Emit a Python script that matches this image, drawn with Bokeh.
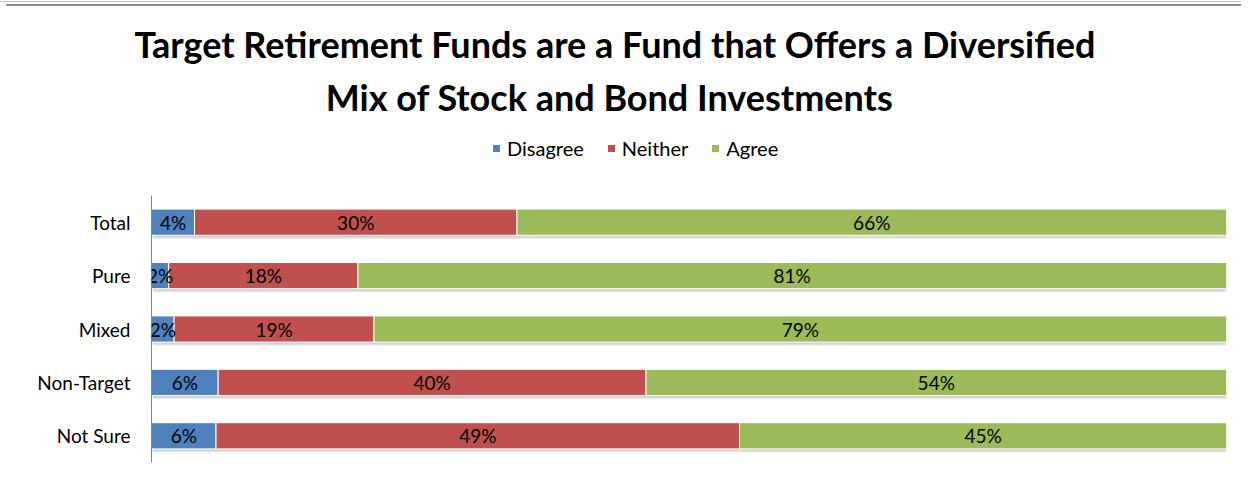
from bokeh.plotting import figure
from bokeh.layouts import column
from bokeh.models import Range1d, FactorRange, ColumnDataSource, LabelSet, Legend, LegendItem, Title
from bokeh.core.properties import value
from bokeh.transform import dodge
from bokeh.embed import file_html
from bokeh.resources import INLINE

categories = ["Total", "Pure", "Mixed", "Non-Target", "Not Sure"]
disagree = [4.0, 1.6, 2.1, 6.2, 6.0]
neither = [30.0, 17.6, 18.6, 39.8, 48.7]
agree = [66.0, 80.8, 79.3, 54.0, 45.3]
series_names = ["Disagree", "Neither", "Agree"]
colors = ["#4F81BD", "#C0504D", "#9BBB59"]
title_lines = ["Target Retirement Funds are a Fund that Offers a Diversified",
               "Mix of Stock and Bond Investments"]

FONT = "Lato"
W = 1241
HEAD_H = 195
FL, FR = 151, 15   # frame borders (left / right)

# ---------- header (title + legend) ----------
head = figure(width=W, height=HEAD_H, output_backend="svg", toolbar_location=None,
              x_range=Range1d(0, 1), y_range=Range1d(0, 1),
              min_border_left=FL, min_border_right=FR, min_border_top=122, min_border_bottom=0)
head.axis.visible = False
head.grid.visible = False
head.outline_line_color = None
head.border_fill_color = None
head.background_fill_color = None
# titles stacked outward from the frame: second line first
for txt, off in [(title_lines[1], 333), (title_lines[0], 131)]:
    head.add_layout(Title(text=txt, align="right", offset=off, standoff=7, text_font=FONT,
                          text_font_style="bold", text_font_size="36px", text_color="#000000"), "above")
dummy = ColumnDataSource(dict(y=[-500], l=[0], r=[1]))
lr = [head.hbar(y="y", left="l", right="r", height=1, source=dummy, fill_color=c, line_color="white")
      for c in colors]
legend = Legend(items=[LegendItem(label=n, renderers=[r]) for n, r in zip(series_names, lr)],
                orientation="horizontal", location=(340, 35),
                glyph_width=10, glyph_height=10, label_text_font=FONT, label_text_font_size="20px",
                label_text_color="#000000", border_line_alpha=0, background_fill_alpha=0,
                padding=0, margin=0, spacing=22, label_standoff=6)
head.add_layout(legend, "center")

# ---------- main bar chart ----------
p = figure(width=W, height=280, output_backend="svg", toolbar_location=None,
           x_range=Range1d(0, 100), y_range=FactorRange(factors=list(reversed(categories)), range_padding=0),
           min_border_left=FL, min_border_right=FR, min_border_top=0, min_border_bottom=13)
p.outline_line_color = None
p.border_fill_color = None
p.xgrid.visible = False
p.ygrid.visible = False
p.xaxis.visible = False
p.yaxis.axis_line_color = "#868686"
p.yaxis.axis_line_width = 1
p.yaxis.major_tick_line_color = None
p.yaxis.minor_tick_line_color = None
p.yaxis.major_tick_out = 0
p.yaxis.major_tick_in = 0
p.yaxis.major_label_standoff = 21
p.yaxis.major_label_text_font = FONT
p.yaxis.major_label_text_font_size = "19px"
p.yaxis.major_label_text_color = "#000000"

totals = [a + b + c for a, b, c in zip(disagree, neither, agree)]
src = ColumnDataSource(dict(cat=categories, Disagree=disagree, Neither=neither, Agree=agree,
                            tot2=[t + 0.25 for t in totals]))

# soft shadow
p.hbar(y=dodge("cat", -0.07, range=p.y_range), left=0.15, right="tot2", height=0.49, source=src,
       fill_color="#000000", fill_alpha=0.08, line_color=None)
p.hbar(y=dodge("cat", -0.045, range=p.y_range), left=0.1, right="tot2", height=0.49, source=src,
       fill_color="#000000", fill_alpha=0.10, line_color=None)

rs = p.hbar_stack(series_names, y="cat", height=0.49, source=src, color=colors,
                  line_color="white", line_width=1)

# data labels
lx, ly, lt = [], [], []
for i, c in enumerate(categories):
    start = 0.0
    for vals in (disagree, neither, agree):
        v = vals[i]
        lx.append(start + v / 2)
        ly.append(c)
        lt.append(f"{round(v):.0f}%")
        start += v
lsrc = ColumnDataSource(dict(x=lx, y=ly, t=lt))
p.add_layout(LabelSet(x="x", y="y", text="t", source=lsrc, text_align="center", text_baseline="middle",
                      text_font=value(FONT), text_font_size="19px", text_color="#000000"))

frame_css = ("linear-gradient(#c4c4c4,#c4c4c4) 0px 1px / 1241px 1px no-repeat, "
             "linear-gradient(#8c8c8c,#8c8c8c) 6px 4px / 1235px 2px no-repeat")
layout = column(head, p, spacing=0, styles={"background": frame_css})
open("out.html", "w").write(file_html(layout, INLINE))
